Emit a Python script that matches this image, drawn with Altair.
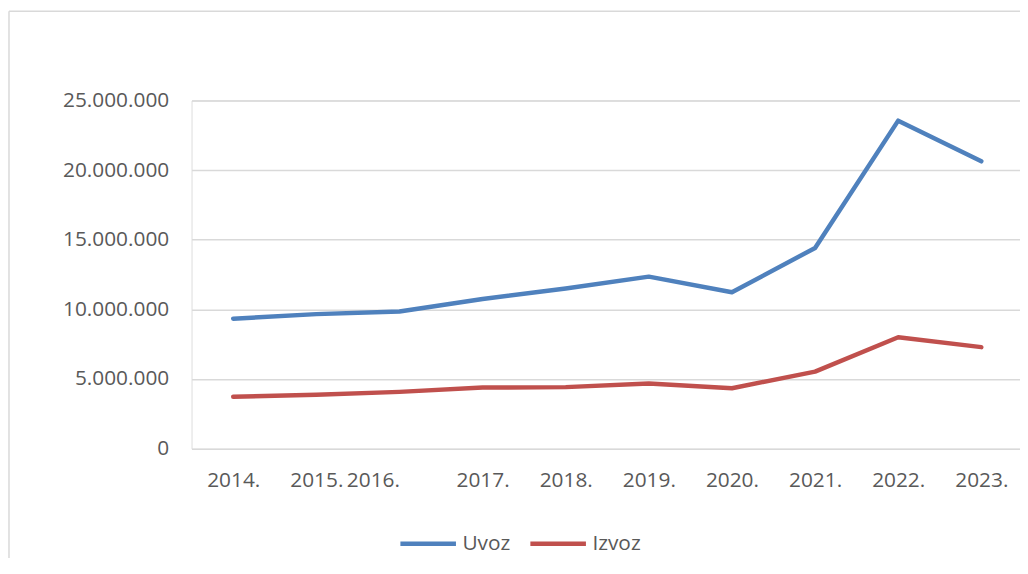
import altair as alt
import pandas as pd

years = ["2014.", "2015.", "2016.", "2017.", "2018.", "2019.", "2020.", "2021.", "2022.", "2023."]
uvoz = [9330000, 9660000, 9850000, 10750000, 11500000, 12350000, 11230000, 14410000, 23550000, 20630000]
izvoz = [3730000, 3870000, 4080000, 4390000, 4420000, 4680000, 4340000, 5530000, 8000000, 7290000]
series = ["Uvoz", "Izvoz"]
colors = ["#4F81BD", "#C0504D"]
y_ticks = [0, 5000000, 10000000, 15000000, 20000000, 25000000]

rows = []
for name, vals in zip(series, [uvoz, izvoz]):
    for yr, v in zip(years, vals):
        rows.append({"godina": yr, "vrijednost": v, "serija": name})
df = pd.DataFrame(rows)

FONT = "Open Sans"
GREY = "#595959"
W, H = 835, 351

lines = alt.Chart(df).mark_line(strokeWidth=4.5, strokeCap="round", strokeJoin="round").encode(
    x=alt.X("godina:N", sort=years, title=None,
            scale=alt.Scale(padding=0.4833, align=0.5185, round=False),
            axis=alt.Axis(labelAngle=0, ticks=False, domain=False, grid=False,
                          labelFont=FONT, labelFontSize=21, labelColor=GREY, labelPadding=21,
                          labelAlign={"condition": {"test": "datum.value === '2016.'", "value": "right"},
                                      "value": "center"})),
    y=alt.Y("vrijednost:Q", title=None,
            scale=alt.Scale(domain=[0, 25000000], nice=False),
            axis=alt.Axis(values=y_ticks, format=",d", ticks=False, domain=False, grid=True,
                          gridColor="#D9D9D9", gridWidth=1.5,
                          labelFont=FONT, labelFontSize=21, labelColor=GREY, labelPadding=23)),
    color=alt.Color("serija:N", sort=series, title=None,
                    scale=alt.Scale(domain=series, range=colors),
                    legend=alt.Legend(orient="none", legendX=208, legendY=416, direction="horizontal",
                                      symbolType="stroke", symbolSize=3136, symbolStrokeWidth=4.5,
                                      labelFont=FONT, labelFontSize=21, labelColor=GREY,
                                      labelOffset=4, columnPadding=10)),
)

frame_df = pd.DataFrame({"k": [0]})
left_border = alt.Chart(frame_df).mark_rule(color="#D9D9D9", strokeWidth=1.5).encode(
    x=alt.value(-184), y=alt.value(-90), y2=alt.value(H + 120))
top_border = alt.Chart(frame_df).mark_rule(color="#D9D9D9", strokeWidth=1.5).encode(
    x=alt.value(-184), x2=alt.value(W + 10), y=alt.value(-90))

chart = alt.layer(lines, left_border, top_border).properties(
    width=W, height=H,
    autosize=alt.AutoSizeParams(type="none"),
    padding={"left": 185, "top": 91, "right": 0, "bottom": 108},
).configure_view(stroke=None).configure(
    locale={"number": {"decimal": ",", "thousands": ".", "grouping": [3], "currency": ["", " €"]}}
)

chart.save("out.html", embed_options={"renderer": "svg", "actions": False})
